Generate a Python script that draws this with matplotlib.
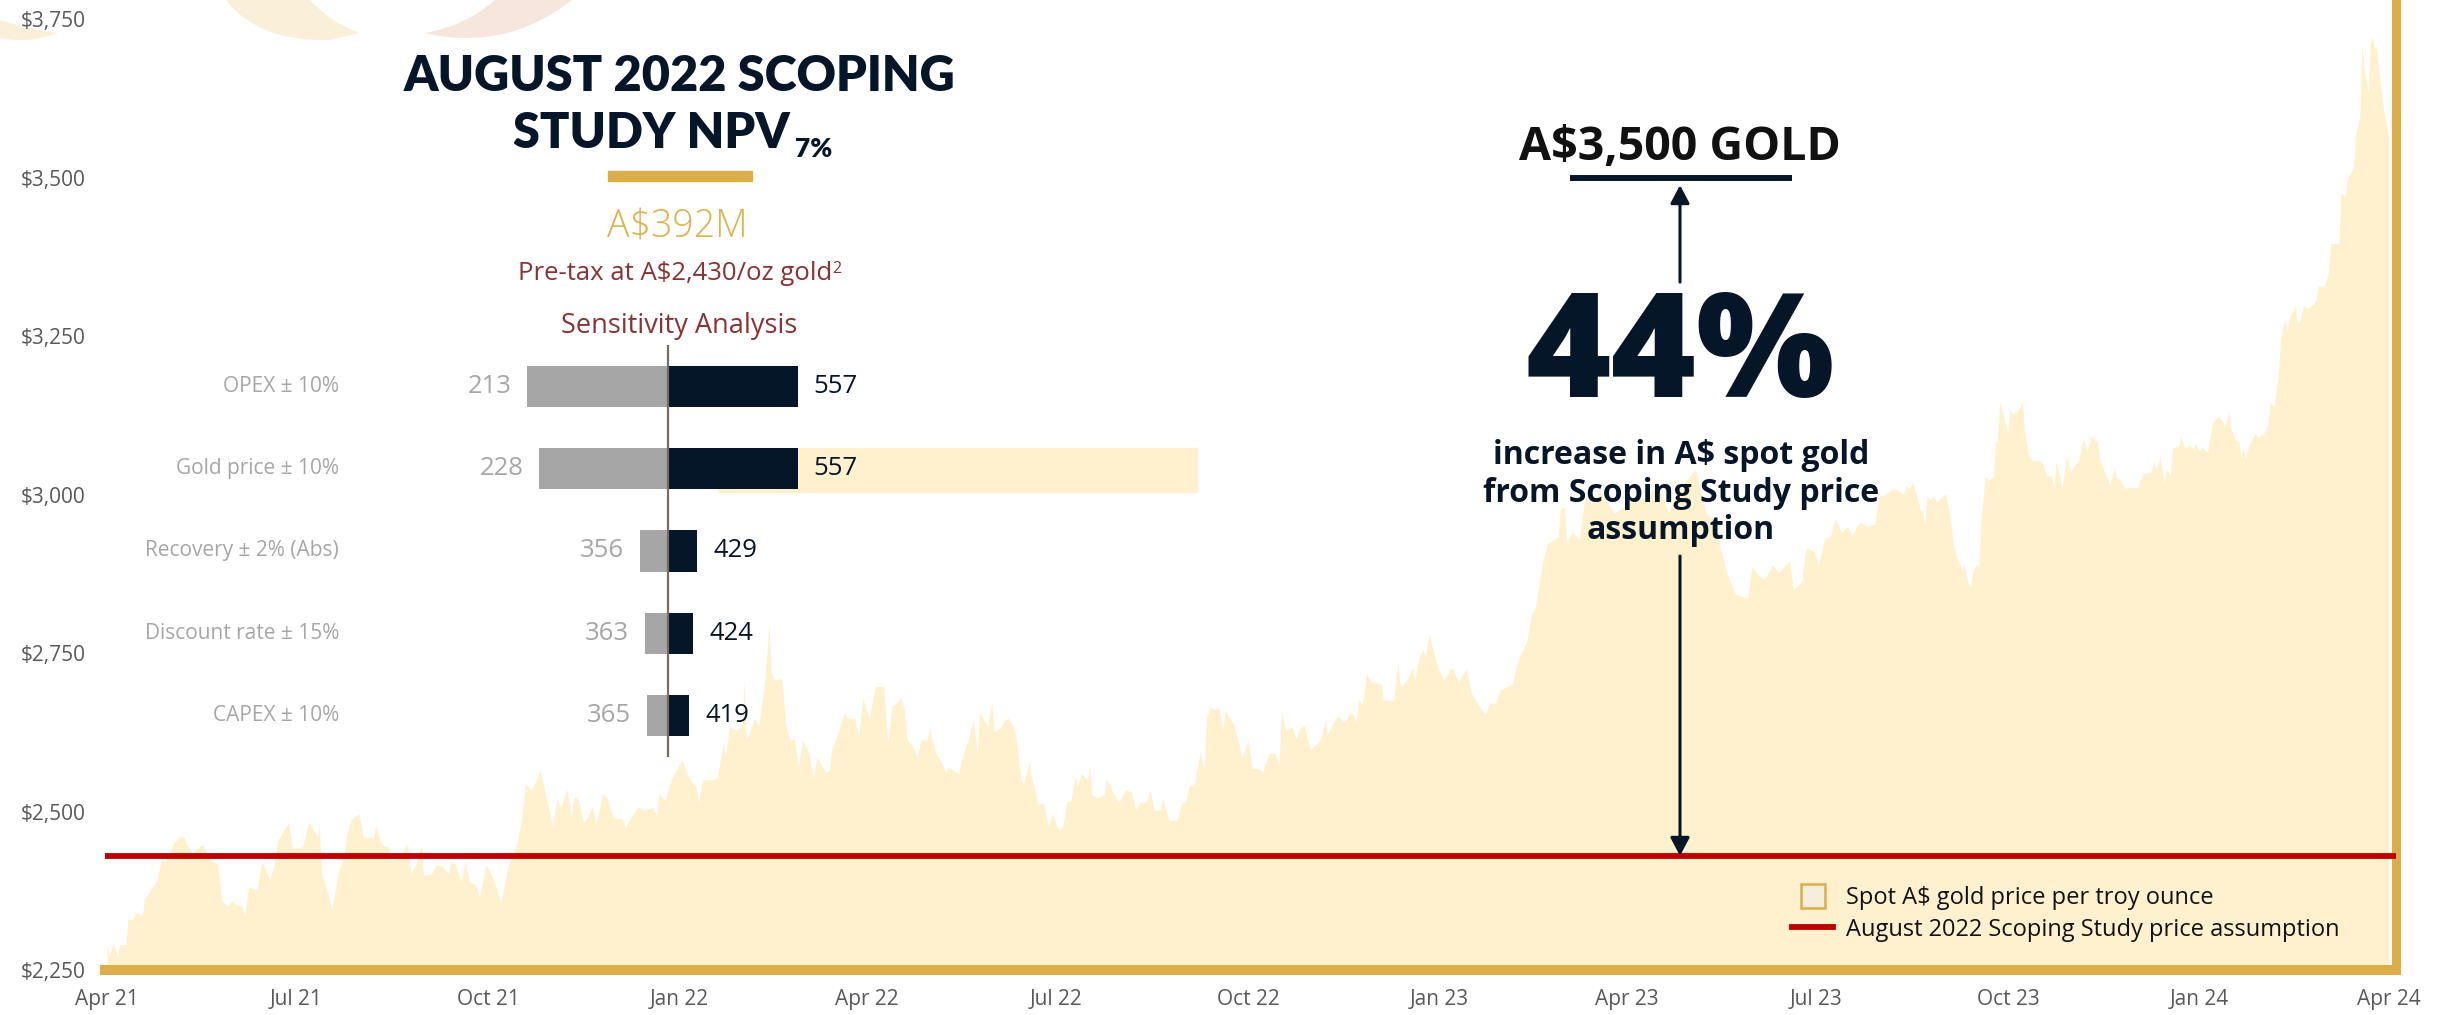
import numpy as np
import pandas as pd
import matplotlib
matplotlib.use("Agg")
import matplotlib.pyplot as plt
import matplotlib.dates as mdates
import matplotlib.transforms as mtransforms
from matplotlib.patches import Rectangle, PathPatch, Patch
from matplotlib.path import Path
from matplotlib.lines import Line2D
from matplotlib.legend_handler import HandlerPatch
from matplotlib.ticker import FuncFormatter

plt.rcParams['font.family'] = ['Open Sans', 'DejaVu Sans']

# ---------------- data ----------------
START = "2021-04-01"
END = "2024-04-01"
day_offset = [
    0, 1, 3, 5, 6, 9, 10, 12, 14, 17, 18, 20, 24, 26, 28, 32, 35, 37, 38, 41, 44, 46, 48, 50, 53, 55, 58, 60, 62, 65,
    66, 68, 72, 74, 75, 78, 80, 82, 86, 87, 89, 94, 95, 97, 101, 102, 103, 106, 108, 111, 114, 115, 117, 121, 123,
    128, 129, 132, 135, 137, 141, 144, 146, 149, 151, 152, 156, 158, 161, 164, 165, 167, 170, 172, 174, 177, 179,
    182, 185, 187, 189, 191, 192, 194, 197, 199, 201, 204, 207, 208, 212, 214, 216, 218, 221, 223, 224, 226, 229,
    233, 235, 238, 240, 243, 247, 249, 252, 255, 258, 262, 264, 265, 268, 271, 276, 280, 283, 284, 286, 290,
    293, 296, 297, 299, 302, 305, 306, 307, 309, 311, 313, 316, 318, 319, 321, 324, 326, 328, 330, 332, 334, 337,
    339, 341, 345, 347, 348, 351, 354, 356, 359, 361, 363, 366, 369, 373, 375, 377, 380, 381, 383, 384, 387, 389,
    391, 394, 395, 398, 401, 403, 404, 409, 411, 413, 416, 418, 419, 423, 425, 426, 429, 431, 433, 436, 439, 440,
    443, 444, 447, 450, 452, 454, 457, 459, 461, 463, 465, 466, 468, 471, 472, 473, 476, 479, 480, 483, 486, 488,
    489, 492, 494, 496, 499, 501, 503, 506, 507, 510, 514, 516, 518, 520, 522, 525, 527, 528, 530, 532, 534, 536,
    537, 539, 541, 544, 545, 548, 550, 553, 555, 556, 558, 561, 563, 564, 566, 569, 571, 573, 575, 578, 582,
    583, 585, 586, 591, 594, 598, 600, 601, 603, 605, 607, 612, 613, 618, 620, 621, 622, 625, 627, 628, 630, 632,
    633, 635, 639, 642, 646, 649, 653, 655, 660, 662, 664, 667, 669, 675, 677, 679, 682, 684, 686, 688, 690, 692,
    697, 698, 700, 701, 704, 707, 710, 713, 717, 724, 730, 739, 745, 750, 753, 758, 763, 768, 772, 776, 778, 782,
    788, 790, 793, 796, 800, 803, 808, 810, 814, 816, 820, 822, 825, 828, 830, 833, 836, 838, 842, 845, 849, 851,
    854, 858,
    861, 863, 864, 866, 867, 869, 871, 872, 873, 874, 876, 877, 879, 881, 883, 885, 887, 889, 891, 892, 893, 895,
    896, 898, 899, 900, 902, 904, 906, 907, 908, 909, 911, 913, 914, 915, 918, 920, 921, 923, 925, 927, 929, 932,
    934, 935, 936, 938, 939, 941, 942, 943, 946, 947, 949, 950, 951, 953, 956, 957, 959, 961, 962, 964, 965, 967,
    969, 970, 973, 975, 978, 979, 982, 983, 984, 985, 986, 988, 989, 991, 992, 995, 996, 998, 1000, 1002, 1003,
    1005, 1006, 1008, 1009, 1011, 1012, 1014, 1016, 1017, 1019, 1020, 1022, 1024, 1025, 1026, 1027, 1029, 1032,
    1033, 1036, 1038, 1039, 1041, 1043, 1044, 1046, 1047, 1048, 1051, 1052, 1053, 1055, 1057, 1060, 1061, 1062,
    1065, 1067, 1068, 1072, 1073, 1075, 1076, 1079, 1080, 1082, 1083, 1084, 1086, 1087, 1088, 1089, 1090, 1092,
    1094, 1096,
]
spot_price = [
    2295, 2271, 2293, 2271, 2290, 2290, 2331, 2329, 2340, 2337, 2363, 2371, 2392, 2423, 2421, 2450, 2460, 2460, 2450,
    2434, 2444, 2447, 2434, 2423, 2418, 2360, 2350, 2360, 2352, 2350, 2334, 2381, 2376, 2416, 2418, 2392, 2413, 2455,
    2476, 2484, 2442, 2444, 2460, 2484, 2460, 2476, 2402, 2371, 2345, 2402, 2434, 2460, 2486, 2497, 2460, 2458, 2479,
    2447, 2444, 2423, 2428, 2450, 2402, 2421, 2447, 2399, 2402, 2416, 2413, 2402, 2421, 2418, 2389, 2421, 2389, 2384,
    2365, 2416, 2397, 2379, 2355, 2386, 2407, 2426, 2450, 2486, 2544, 2534, 2557, 2565, 2507, 2476, 2521, 2507, 2536,
    2489, 2521, 2523, 2481, 2507, 2481, 2528, 2523, 2489, 2489, 2476, 2492, 2507, 2502, 2507, 2494, 2528, 2518, 2550,
    2581, 2550, 2539, 2513, 2550, 2550,
    2552, 2610, 2586, 2634, 2628, 2634, 2707, 2613, 2628, 2647, 2634, 2707, 2796, 2718, 2707, 2710, 2636, 2613, 2615,
    2570, 2613, 2594, 2552, 2586, 2562, 2565, 2597, 2623, 2655, 2647, 2647, 2618, 2678, 2647, 2697, 2697, 2607, 2665,
    2673, 2681, 2660, 2615, 2602, 2586, 2613, 2613, 2631, 2592, 2576, 2560, 2570, 2560, 2589, 2607, 2644, 2594, 2655,
    2634, 2673, 2626, 2631, 2644, 2647, 2628, 2550, 2544, 2578, 2555, 2513, 2513, 2476, 2497, 2471, 2476, 2515, 2518,
    2557, 2539, 2560, 2550, 2573, 2526, 2521, 2528, 2552, 2531, 2515, 2526, 2534, 2531, 2502, 2515, 2515, 2534, 2502,
    2502, 2521, 2486, 2486, 2513, 2515, 2544, 2539, 2594, 2565, 2647, 2665, 2660, 2665, 2628, 2660, 2649, 2639, 2602,
    2584, 2613, 2568, 2568, 2562, 2570, 2592, 2592, 2573, 2660, 2628, 2634, 2615, 2631, 2636, 2597, 2610,
    2617, 2644, 2621, 2651, 2641, 2657, 2641, 2678, 2668, 2718, 2705, 2701, 2675, 2675, 2738, 2701, 2698, 2711, 2728,
    2705, 2741, 2755, 2745, 2779, 2728, 2708, 2728, 2705, 2725, 2688, 2661, 2654, 2671, 2671, 2691, 2701, 2731, 2748,
    2769, 2809, 2822, 2863, 2900, 2923, 2933, 2977, 2980, 2926, 2940, 2930, 2997, 2986, 3005, 2970, 2985, 2996, 3015,
    2970, 2999, 3020, 3040, 2970, 2960, 2900, 2876, 2843, 2836, 2886, 2873, 2866, 2889, 2876, 2896, 2850, 2863, 2916,
    2910, 2889, 2930, 2936, 2963, 2940, 2950, 2936, 2957, 2950, 2953, 2997, 3000, 3010,
    3004, 3001, 3014, 3010, 3020, 3001, 2975, 2975, 2950, 2996, 2992, 2998, 2988, 2996, 3001, 2970, 2916, 2896, 2881,
    2891, 2868, 2853, 2877, 2891, 2886, 2955, 3028, 3023, 3028, 3082, 3082, 3145, 3121, 3097, 3135, 3126, 3133, 3147,
    3097, 3060, 3053, 3053, 3053, 3028, 3030, 3009, 3053, 3028, 3009, 3058, 3053, 3036, 3050, 3053, 3087, 3082, 3068,
    3092, 3082, 3058, 3038, 3023, 3014, 3043, 3028, 3023, 3009, 3011, 3011, 3011, 3033, 3033, 3036, 3053, 3040, 3048,
    3060, 3018, 3040, 3028, 3073, 3076, 3092, 3073, 3078, 3073, 3080, 3068, 3076, 3068, 3068, 3108, 3116, 3124, 3116,
    3108, 3130, 3106, 3087, 3082, 3058, 3076, 3056, 3080, 3097, 3090, 3097, 3111, 3145, 3140, 3194, 3248, 3277, 3255,
    3277, 3297, 3272, 3272, 3297, 3294, 3301, 3306, 3329, 3329, 3350, 3396, 3396, 3477, 3469, 3496, 3516, 3569, 3595,
    3711, 3672, 3633, 3711, 3722, 3706, 3703, 3643, 3594, 3564,
]
scoping_price = 2430
target_price = 3500
y_ticks = [2250, 2500, 2750, 3000, 3250, 3500, 3750]
quarter_ticks = ["2021-04-01", "2021-07-01", "2021-10-01", "2022-01-01", "2022-04-01", "2022-07-01",
                 "2022-10-01", "2023-01-01", "2023-04-01", "2023-07-01", "2023-10-01", "2024-01-01", "2024-04-01"]
legend_labels = ["Spot A$ gold price per troy ounce", "August 2022 Scoping Study price assumption"]

sens_labels = ["OPEX ± 10%", "Gold price ± 10%", "Recovery ± 2% (Abs)", "Discount rate ± 15%", "CAPEX ± 10%"]
sens_low = [213, 228, 356, 363, 365]
sens_high = [557, 557, 429, 424, 419]
npv_base = 392

# ---------------- style ----------------
CREAM = '#FFF1CE'
GOLD = '#DDAE48'
RED = '#C00000'
NAVY = '#061629'
GREY = '#A6A6A6'
TICK = '#595959'
DARKRED = '#8C3134'

W, H, DPI = 2438, 1015, 100
fig = plt.figure(figsize=(W / DPI, H / DPI), dpi=DPI)
fig.patch.set_facecolor('white')
PX = mtransforms.Affine2D().scale(1 / W, -1 / H).translate(0, 1) + fig.transFigure


def frac(x0, y_top, x1, y_bot):
    return [x0 / W, 1 - y_bot / H, (x1 - x0) / W, (y_bot - y_top) / H]


def ptext(x, y, s, **kw):
    return fig.text(x, y, s, transform=PX, **kw)


# ---------------- decorative logo arcs at top ----------------
M, C3, L, CL = Path.MOVETO, Path.CURVE3, Path.LINETO, Path.CLOSEPOLY
deco = [
    ([(0, 20), (30, 30), (57, 33), (30, 44), (0, 38), (0, 20)], [M, C3, C3, C3, C3, CL], '#FAF0DA'),
    ([(226, 0), (258, 42), (329, 40), (360, 33), (330, 22), (310, 0), (226, 0)], [M, C3, C3, L, C3, C3, CL], '#FAF0DA'),
    ([(425, 33), (505, 52), (572, 0), (495, 0), (465, 26), (425, 33), (425, 33)], [M, C3, C3, L, C3, C3, CL], '#F6E6DD'),
]
for verts, codes, col in deco:
    fig.add_artist(PathPatch(Path(verts, codes), transform=PX, facecolor=col, edgecolor='none', zorder=-1))

# ---------------- main area chart ----------------
ax = fig.add_axes(frac(105, 0, 2396, 970))
ax.set_facecolor('none')
t0 = pd.Timestamp(START)
dates = (t0 + pd.to_timedelta(day_offset, unit='D')).values
ax.fill_between(dates, spot_price, y_ticks[0], color=CREAM, lw=0, zorder=1)
ax.axhline(scoping_price, color=RED, lw=4.2, zorder=3)
ax.set_ylim(y_ticks[0], 3780)
ax.set_xlim(t0 - pd.Timedelta(days=1), pd.Timestamp(END) + pd.Timedelta(days=3.4))
ax.set_yticks(y_ticks)
ax.yaxis.set_major_formatter(FuncFormatter(lambda v, p: f"${v:,.0f}"))
ax.set_xticks(pd.to_datetime(quarter_ticks))
ax.xaxis.set_major_formatter(mdates.DateFormatter('%b %y'))
ax.tick_params(axis='both', length=0, labelsize=15, labelcolor=TICK)
ax.tick_params(axis='y', pad=14)
ax.tick_params(axis='x', pad=14)
for s in ['top', 'left']:
    ax.spines[s].set_visible(False)
ax.spines['bottom'].set_color(GOLD)
ax.spines['bottom'].set_linewidth(7.2)
ax.spines['right'].set_color(GOLD)
ax.spines['right'].set_linewidth(6.5)


def square_patch(legend, orig_handle, xdescent, ydescent, width, height, fontsize):
    return Rectangle((-xdescent + (width - height) / 2, -ydescent), height, height)


h1 = Patch(facecolor='#F6EEDC', edgecolor=GOLD, lw=1.8)
h2 = Line2D([], [], color=RED, lw=4.2)
leg = ax.legend([h1, h2], legend_labels, loc='upper left', bbox_to_anchor=(1792 / W, 1 - 884 / H),
                bbox_transform=fig.transFigure, frameon=False, fontsize=17, handlelength=1.75,
                handleheight=1.18, handletextpad=0.55, labelspacing=0.28, borderpad=0, borderaxespad=0,
                handler_map={Patch: HandlerPatch(patch_func=square_patch)})
for t in leg.get_texts():
    t.set_color('#111111')

# annotation arrows (x in pixels, y in price units)
arr_tr = mtransforms.blended_transform_factory(PX, ax.transData)
ap = dict(arrowstyle='-|>,head_length=1.1,head_width=0.58', mutation_scale=10, lw=2.2, color=NAVY,
          shrinkA=0, shrinkB=0)
ax.annotate('', xy=(1680, scoping_price), xycoords=arr_tr, xytext=(1680, 2903), textcoords=arr_tr,
            arrowprops=ap, annotation_clip=False, zorder=5)
ax.annotate('', xy=(1680, 3488), xycoords=arr_tr, xytext=(1680, 3335), textcoords=arr_tr,
            arrowprops=ap, annotation_clip=False, zorder=5)
ax.add_line(Line2D([1570, 1792], [target_price, target_price], transform=arr_tr, color=NAVY, lw=4.3,
                   solid_capstyle='butt', clip_on=False, zorder=5))

# ---------------- tornado (sensitivity) ----------------
scale = 0.785
tax = fig.add_axes(frac(500, 345, 840, 757))
tax.set_axis_off()
tax.set_xlim(npv_base - (668 - 500) / scale, npv_base + (840 - 668) / scale)
tax.set_ylim(len(sens_labels) - 0.5, -0.5)
rows = np.arange(len(sens_labels))
low = np.array(sens_low)
high = np.array(sens_high)
tax.add_patch(Rectangle((719, 448), 478, 44, transform=PX, color=CREAM, zorder=0.5, clip_on=False))
tax.barh(rows, low - npv_base, left=npv_base, height=0.5, color=GREY, zorder=2)
tax.barh(rows, high - npv_base, left=npv_base, height=0.5, color=NAVY, zorder=2)
tax.axvline(npv_base, color='#776B62', lw=1.6, zorder=3)
lab_tr = mtransforms.blended_transform_factory(PX, tax.transData)
for i, lab in enumerate(sens_labels):
    tax.text(339, i, lab, transform=lab_tr, ha='right', va='center', fontsize=15, color=GREY, clip_on=False)
    tax.annotate(str(sens_low[i]), xy=(sens_low[i], i), xytext=(-11.5, 0), textcoords='offset points',
                 ha='right', va='center', fontsize=18.5, color=GREY, annotation_clip=False)
    tax.annotate(str(sens_high[i]), xy=(sens_high[i], i), xytext=(11.5, 0), textcoords='offset points',
                 ha='left', va='center', fontsize=18.5, color=NAVY, annotation_clip=False)

# ---------------- texts ----------------
ptext(680, 91, "AUGUST 2022 SCOPING", ha='center', va='baseline', fontsize=35, fontweight='heavy',
      family=['Lato', 'DejaVu Sans'], color=NAVY)
ptext(790, 148, "STUDY NPV", ha='right', va='baseline', fontsize=35, fontweight='heavy',
      family=['Lato', 'DejaVu Sans'], color=NAVY)
ptext(795, 157, "7%", ha='left', va='baseline', fontsize=19, fontweight='heavy',
      family=['Lato', 'DejaVu Sans'], color=NAVY)
fig.add_artist(Rectangle((608, 171), 144, 10, transform=PX, color=GOLD, zorder=3))
ptext(677, 238, "A$392M", ha='center', va='baseline', fontsize=27, fontweight='light', color='#DFB24A')
pre = ptext(518, 280, "Pre-tax at A$2,430/oz gold", ha='left', va='baseline', fontsize=18.5,
            fontweight='normal', color=DARKRED)
ax.annotate("2", xy=(1.0, 1.0), xycoords=pre, ha='left', va='top', fontsize=11.5,
            fontweight='normal', color=DARKRED, annotation_clip=False)
ptext(679, 333, "Sensitivity Analysis", ha='center', va='baseline', fontsize=19.5,
      fontweight='normal', color=DARKRED)

ptext(1680, 160, "A$3,500 GOLD", ha='center', va='baseline', fontsize=33.5, fontweight='bold', color='#111111')
ptext(1680, 397, "44%", ha='center', va='baseline', fontsize=105, fontweight='extra bold', color=NAVY)
for yb, line in zip([464, 502, 539], ["increase in A$ spot gold", "from Scoping Study price", "assumption"]):
    ptext(1681, yb, line, ha='center', va='baseline', fontsize=23, fontweight='bold', color=NAVY)

fig.savefig("out.png", dpi=DPI)
